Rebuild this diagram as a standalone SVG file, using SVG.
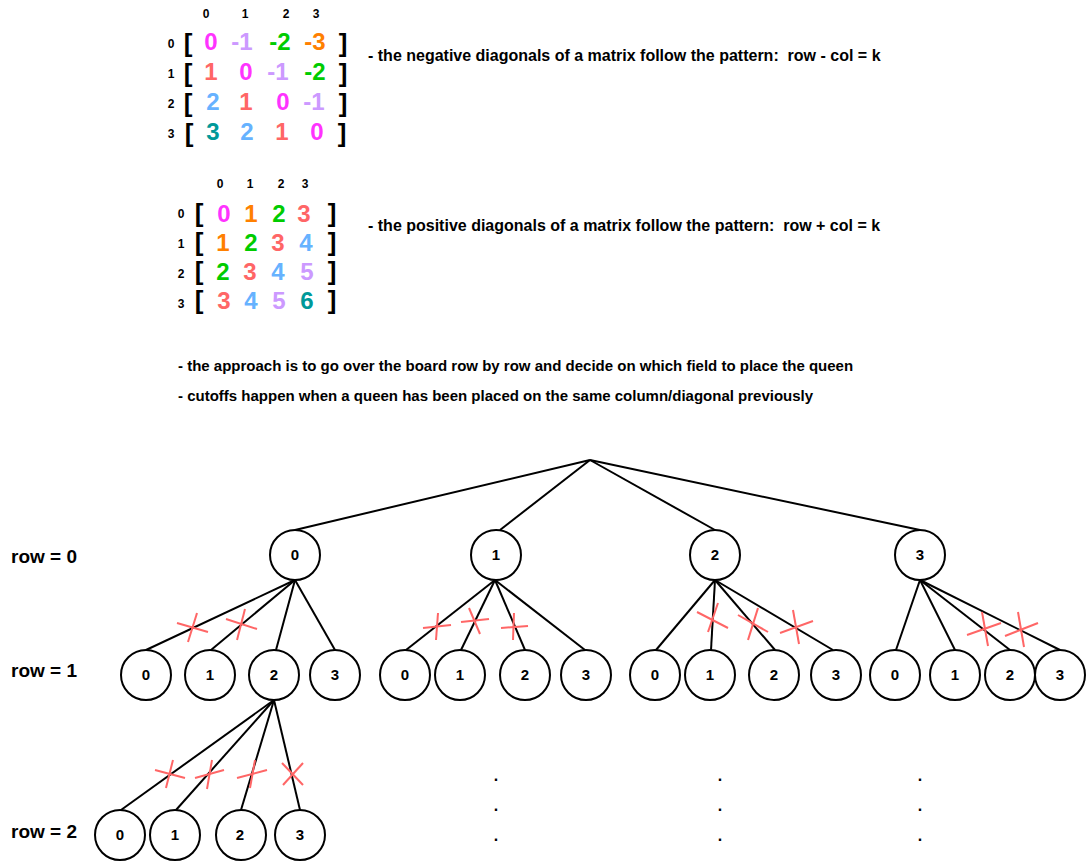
<svg xmlns="http://www.w3.org/2000/svg" width="1086" height="861" viewBox="0 0 1086 861">
<style>
text{font-family:"Liberation Sans",Arial,sans-serif;font-weight:bold;fill:#000;white-space:pre}
.hd{font-size:12px;text-anchor:middle}
.br{font-size:26px;text-anchor:middle}
.m{font-size:24px;text-anchor:middle}
.t{font-size:16px}
.s{font-size:15px}
.row{font-size:19px}
.nl{font-size:15px;text-anchor:middle}
.mg{fill:#FF33FF}.pu{fill:#CC99FF}.gr{fill:#00CC00}.or{fill:#FF8000}.rd{fill:#FF6666}.bl{fill:#66B2FF}.te{fill:#009999}
circle{fill:#fff;stroke:#000;stroke-width:2}
#connectors line{stroke:#000;stroke-width:2}
#cuts line{stroke:#FF6666;stroke-width:2}
.dot{font-size:16px;text-anchor:middle}
</style>
<rect width="1086" height="861" fill="#fff"/>

<g id="matrix-negative">
<text class="hd" x="206" y="18">0</text><text class="hd" x="245" y="18">1</text><text class="hd" x="286" y="18">2</text><text class="hd" x="316" y="18">3</text>
<text class="hd" x="171" y="48">0</text><text class="hd" x="171" y="78">1</text><text class="hd" x="171" y="108">2</text><text class="hd" x="171" y="138">3</text>
<text class="br" x="188" y="52">[</text><text class="br" x="343" y="52">]</text>
<text class="br" x="188" y="82">[</text><text class="br" x="343" y="82">]</text>
<text class="br" x="188" y="112">[</text><text class="br" x="343" y="112">]</text>
<text class="br" x="189" y="142">[</text><text class="br" x="342" y="142">]</text>
<text class="m mg" x="211" y="50">0</text><text class="m pu" x="242" y="50">-1</text><text class="m gr" x="280" y="50">-2</text><text class="m or" x="315" y="50">-3</text>
<text class="m rd" x="211" y="80">1</text><text class="m mg" x="246" y="80">0</text><text class="m pu" x="278" y="80">-1</text><text class="m gr" x="315" y="80">-2</text>
<text class="m bl" x="213" y="110">2</text><text class="m rd" x="246" y="110">1</text><text class="m mg" x="283" y="110">0</text><text class="m pu" x="314" y="110">-1</text>
<text class="m te" x="213" y="140">3</text><text class="m bl" x="247" y="140">2</text><text class="m rd" x="282" y="140">1</text><text class="m mg" x="317" y="140">0</text>
</g>
<g id="text-negative"><text class="t" x="368" y="61" xml:space="preserve">- the negative diagonals of a matrix follow the pattern:  row - col = k</text></g>

<g id="matrix-positive">
<text class="hd" x="220" y="188">0</text><text class="hd" x="250" y="188">1</text><text class="hd" x="281" y="188">2</text><text class="hd" x="305" y="188">3</text>
<text class="hd" x="181" y="218">0</text><text class="hd" x="181" y="248">1</text><text class="hd" x="181" y="278">2</text><text class="hd" x="181" y="308">3</text>
<text class="br" x="199" y="222">[</text><text class="br" x="332" y="222">]</text>
<text class="br" x="199" y="251">[</text><text class="br" x="332" y="251">]</text>
<text class="br" x="199" y="280">[</text><text class="br" x="332" y="280">]</text>
<text class="br" x="199" y="309">[</text><text class="br" x="332" y="309">]</text>
<text class="m mg" x="224" y="222">0</text><text class="m or" x="251" y="222">1</text><text class="m gr" x="279" y="222">2</text><text class="m rd" x="304" y="222">3</text>
<text class="m or" x="223" y="251">1</text><text class="m gr" x="251" y="251">2</text><text class="m rd" x="278" y="251">3</text><text class="m bl" x="306" y="251">4</text>
<text class="m gr" x="223" y="280">2</text><text class="m rd" x="250" y="280">3</text><text class="m bl" x="278" y="280">4</text><text class="m pu" x="307" y="280">5</text>
<text class="m rd" x="224" y="309">3</text><text class="m bl" x="251" y="309">4</text><text class="m pu" x="279" y="309">5</text><text class="m te" x="307" y="309">6</text>
</g>
<g id="text-positive"><text class="t" x="368" y="231" xml:space="preserve">- the positive diagonals of a matrix follow the pattern:  row + col = k</text></g>

<g id="text-approach"><text class="s" x="178" y="371">- the approach is to go over the board row by row and decide on which field to place the queen</text></g>
<g id="text-cutoffs"><text class="s" x="178" y="401">- cutoffs happen when a queen has been placed on the same column/diagonal previously</text></g>

<g id="row-labels">
<text class="row" x="11" y="563">row = 0</text>
<text class="row" x="11" y="677">row = 1</text>
<text class="row" x="11" y="838">row = 2</text>
</g>

<g id="connectors">
<line x1="590" y1="460" x2="295" y2="530"/>
<line x1="590" y1="460" x2="500" y2="530"/>
<line x1="590" y1="460" x2="715" y2="530"/>
<line x1="590" y1="460" x2="920" y2="530"/>
<line x1="295" y1="580" x2="146" y2="650"/>
<line x1="295" y1="580" x2="211" y2="650"/>
<line x1="295" y1="580" x2="276" y2="650"/>
<line x1="295" y1="580" x2="335" y2="650"/>
<line x1="495" y1="580" x2="406" y2="650"/>
<line x1="495" y1="580" x2="461" y2="650"/>
<line x1="495" y1="580" x2="525" y2="650"/>
<line x1="495" y1="580" x2="585" y2="650"/>
<line x1="715" y1="580" x2="656" y2="650"/>
<line x1="715" y1="580" x2="711" y2="650"/>
<line x1="715" y1="580" x2="775" y2="650"/>
<line x1="715" y1="580" x2="833" y2="650"/>
<line x1="920" y1="580" x2="896" y2="650"/>
<line x1="920" y1="580" x2="955" y2="650"/>
<line x1="920" y1="580" x2="1010" y2="650"/>
<line x1="920" y1="580" x2="1060" y2="650"/>
<line x1="274" y1="700" x2="121" y2="810"/>
<line x1="274" y1="700" x2="176" y2="810"/>
<line x1="274" y1="700" x2="241" y2="810"/>
<line x1="274" y1="700" x2="300" y2="810"/>
</g>

<g id="cuts">
<line x1="177" y1="623" x2="208" y2="632"/><line x1="197" y1="613" x2="188" y2="642"/>
<line x1="226" y1="619" x2="257" y2="629"/><line x1="245" y1="609" x2="237" y2="640"/>
<line x1="423" y1="628" x2="451" y2="625"/><line x1="438" y1="613" x2="436" y2="640"/>
<line x1="461" y1="622" x2="489" y2="619"/><line x1="469" y1="608" x2="480" y2="634"/>
<line x1="501" y1="628" x2="528" y2="626"/><line x1="514" y1="613" x2="513" y2="640"/>
<line x1="697" y1="612" x2="728" y2="628"/><line x1="718" y1="603" x2="708" y2="632"/>
<line x1="738" y1="615" x2="768" y2="632"/><line x1="758" y1="608" x2="748" y2="640"/>
<line x1="780" y1="633" x2="813" y2="621"/><line x1="793" y1="610" x2="799" y2="644"/>
<line x1="967" y1="635" x2="1001" y2="623"/><line x1="982" y1="612" x2="988" y2="646"/>
<line x1="1005" y1="636" x2="1038" y2="623"/><line x1="1018" y1="612" x2="1024" y2="647"/>
<line x1="155" y1="770" x2="185" y2="778"/><line x1="173" y1="760" x2="166" y2="788"/>
<line x1="195" y1="778" x2="224" y2="770"/><line x1="212" y1="760" x2="207" y2="789"/>
<line x1="237" y1="778" x2="267" y2="770"/><line x1="255" y1="760" x2="250" y2="788"/>
<line x1="282" y1="763" x2="303" y2="785"/><line x1="303" y1="763" x2="283" y2="785"/>
</g>

<g id="n-r0-0"><circle cx="295" cy="555" r="25"/><text class="nl" x="295" y="560">0</text></g>
<g id="n-r0-1"><circle cx="496" cy="555" r="25"/><text class="nl" x="496" y="560">1</text></g>
<g id="n-r0-2"><circle cx="715" cy="555" r="25"/><text class="nl" x="715" y="560">2</text></g>
<g id="n-r0-3"><circle cx="920" cy="555" r="25"/><text class="nl" x="920" y="560">3</text></g>

<g id="n-a0"><circle cx="146" cy="675" r="25"/><text class="nl" x="146" y="680">0</text></g>
<g id="n-a1"><circle cx="210" cy="675" r="25"/><text class="nl" x="210" y="680">1</text></g>
<g id="n-a2"><circle cx="274" cy="675" r="25"/><text class="nl" x="274" y="680">2</text></g>
<g id="n-a3"><circle cx="335" cy="675" r="25"/><text class="nl" x="335" y="680">3</text></g>
<g id="n-b0"><circle cx="405" cy="675" r="25"/><text class="nl" x="405" y="680">0</text></g>
<g id="n-b1"><circle cx="460" cy="675" r="25"/><text class="nl" x="460" y="680">1</text></g>
<g id="n-b2"><circle cx="525" cy="675" r="25"/><text class="nl" x="525" y="680">2</text></g>
<g id="n-b3"><circle cx="586" cy="675" r="25"/><text class="nl" x="586" y="680">3</text></g>
<g id="n-c0"><circle cx="655" cy="675" r="25"/><text class="nl" x="655" y="680">0</text></g>
<g id="n-c1"><circle cx="710" cy="675" r="25"/><text class="nl" x="710" y="680">1</text></g>
<g id="n-c2"><circle cx="774" cy="675" r="25"/><text class="nl" x="774" y="680">2</text></g>
<g id="n-c3"><circle cx="836" cy="675" r="25"/><text class="nl" x="836" y="680">3</text></g>
<g id="n-d0"><circle cx="895" cy="675" r="25"/><text class="nl" x="895" y="680">0</text></g>
<g id="n-d1"><circle cx="955" cy="675" r="25"/><text class="nl" x="955" y="680">1</text></g>
<g id="n-d2"><circle cx="1010" cy="675" r="25"/><text class="nl" x="1010" y="680">2</text></g>
<g id="n-d3"><circle cx="1060" cy="675" r="25"/><text class="nl" x="1060" y="680">3</text></g>

<g id="n-e0"><circle cx="120" cy="835" r="25"/><text class="nl" x="120" y="840">0</text></g>
<g id="n-e1"><circle cx="175" cy="835" r="25"/><text class="nl" x="175" y="840">1</text></g>
<g id="n-e2"><circle cx="241" cy="835" r="25"/><text class="nl" x="240" y="840">2</text></g>
<g id="n-e3"><circle cx="300" cy="835" r="25"/><text class="nl" x="300" y="840">3</text></g>

<g id="ellipsis">
<text class="dot" x="496" y="781">.</text><text class="dot" x="496" y="811">.</text><text class="dot" x="496" y="841">.</text>
<text class="dot" x="720" y="781">.</text><text class="dot" x="720" y="811">.</text><text class="dot" x="720" y="841">.</text>
<text class="dot" x="920" y="781">.</text><text class="dot" x="920" y="811">.</text><text class="dot" x="920" y="841">.</text>
</g>
</svg>
